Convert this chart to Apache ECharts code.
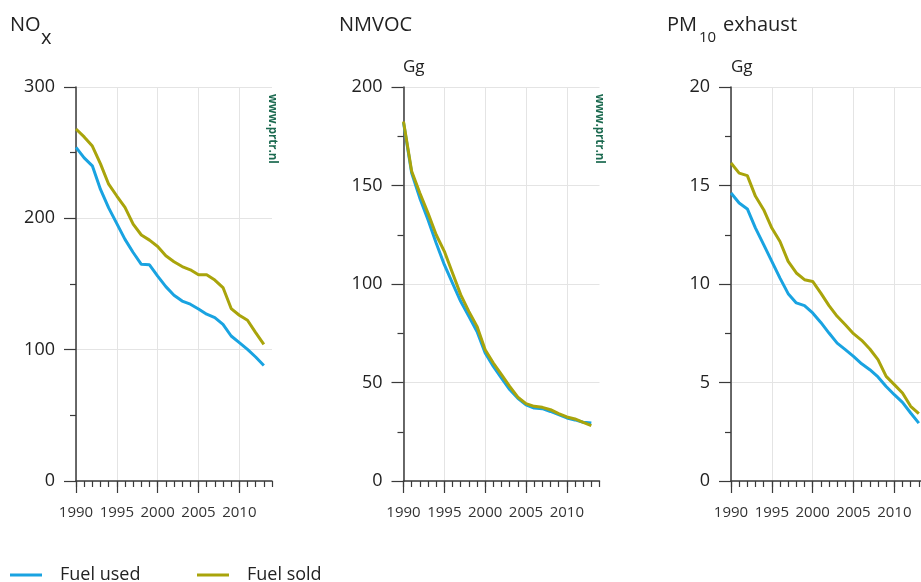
<!DOCTYPE html>
<html>
<head>
<meta charset="utf-8">
<script src="https://cdn.jsdelivr.net/npm/echarts@6/dist/echarts.min.js"></script>
<style>
html, body { margin: 0; padding: 0; background: #fff; }
#chart { width: 921px; height: 582px; }
</style>
</head>
<body>
<div id="chart"></div>
<script>
// years and emission values (Gg)
var years = [1990, 1991, 1992, 1993, 1994, 1995, 1996, 1997, 1998, 1999, 2000, 2001,
	2002, 2003, 2004, 2005, 2006, 2007, 2008, 2009, 2010, 2011, 2012, 2013];
var noxUsed = [254, 246, 240, 222, 208, 196, 184, 174, 165, 164.6, 156, 148,
	141.5, 137, 134.6, 131, 127, 124.4, 119.3, 110.4, 105.3, 100.2, 94.4, 88];
var noxSold = [268, 262, 255, 241.5, 226, 217, 208.4, 195.6, 187.3, 183.4, 178.6, 171.5,
	167, 163.3, 160.8, 157, 157, 153, 147.3, 131.3, 126.2, 122.4, 113, 104];
var nmvocUsed = [182, 156.3, 143.6, 132.6, 120.8, 109.8, 100.5, 91.2, 83.6, 75.9, 65, 58.2,
	52.2, 46.4, 42, 38.7, 37, 36.7, 35.3, 33.7, 32, 31, 29.8, 29.4];
var nmvocSold = [182.5, 157.2, 146.2, 136, 125, 116.6, 105.6, 94.6, 86.1, 78.5, 66.6, 59.9,
	54, 48, 42.6, 39.3, 37.9, 37.4, 36.2, 34.2, 32.5, 31.5, 29.8, 28.1];
var pmUsed = [14.62, 14.11, 13.81, 12.84, 12.0, 11.15, 10.3, 9.51, 9.04, 8.9, 8.53, 8.05,
	7.51, 7.0, 6.67, 6.33, 5.95, 5.65, 5.28, 4.8, 4.38, 3.99, 3.45, 2.94];
var pmSold = [16.14, 15.63, 15.5, 14.45, 13.77, 12.84, 12.16, 11.15, 10.56, 10.22, 10.13, 9.54,
	8.9, 8.36, 7.93, 7.48, 7.14, 6.7, 6.16, 5.31, 4.89, 4.47, 3.79, 3.42];

var majorYears = [1990, 1995, 2000, 2005, 2010];
var yMaxes = [300, 200, 20];
var ySteps = [100, 50, 5];
var seriesNames = ['Fuel used', 'Fuel sold'];

var font = '"Open Sans", "Noto Sans", sans-serif';
var blue = '#19a3e1';
var olive = '#a9a40b';
var axisColor = '#3a3a3a';
var gridColor = '#e4e4e4';
var markColor = '#1c6a50';

var panelData = [[noxUsed, noxSold], [nmvocUsed, nmvocSold], [pmUsed, pmSold]];
var gridLefts = [76, 403.5, 731];

function pairs(vals) {
	return years.map(function(y, i) { return [y, vals[i]]; });
}

var grids = [], xAxes = [], yAxes = [], series = [];
for (var i = 0; i < 3; i++) {
	grids.push({left: gridLefts[i], top: 87, width: 196, height: 394, outerBoundsMode: 'none'});
	// main x axis: 5-year ticks and labels
	xAxes.push({
		type: 'value', gridIndex: i, min: 1990, max: 2014, interval: 5,
		axisLine: {show: true, onZero: false, lineStyle: {color: axisColor, width: 1.5}},
		axisTick: {show: true, length: 12, customValues: majorYears, lineStyle: {color: axisColor, width: 1.2}},
		axisLabel: {customValues: majorYears, margin: 24, fontSize: 15, color: '#333', fontFamily: font,
			formatter: function(v) { return String(v); }},
		splitLine: {show: true, lineStyle: {color: gridColor, width: 1}}
	});
	// second x axis only for yearly small ticks
	xAxes.push({
		type: 'value', gridIndex: i, position: 'bottom', min: 1990, max: 2014, interval: 1,
		axisLine: {show: false},
		axisTick: {show: true, length: 6, lineStyle: {color: axisColor, width: 1.2}},
		axisLabel: {show: false},
		splitLine: {show: false}
	});
	yAxes.push({
		type: 'value', gridIndex: i, min: 0, max: yMaxes[i], interval: ySteps[i],
		axisLine: {show: true, lineStyle: {color: axisColor, width: 1.5}},
		axisTick: {show: true, length: 12, lineStyle: {color: axisColor, width: 1.2}},
		minorTick: {show: true, splitNumber: 2, length: 6, lineStyle: {color: axisColor, width: 1.2}},
		axisLabel: {margin: 21, fontSize: 18, color: '#222', fontFamily: font},
		splitLine: {show: true, lineStyle: {color: gridColor, width: 1}}
	});
	[blue, olive].forEach(function(c, k) {
		series.push({
			type: 'line', name: seriesNames[k], xAxisIndex: 2 * i, yAxisIndex: i,
			data: pairs(panelData[i][k]), symbol: 'none', showSymbol: false,
			lineStyle: {color: c, width: 3}, itemStyle: {color: c}, z: 3 + k
		});
	});
}

function txt(x, y, s, size, extra) {
	var st = {text: s, x: 0, y: 0, fill: '#222', fontSize: size, fontFamily: font,
		align: 'left', textAlign: 'left', verticalAlign: 'middle', textVerticalAlign: 'middle'};
	for (var k in extra) st[k] = extra[k];
	return {type: 'text', x: x, y: y, style: st, z: 10};
}
function mark(x) {
	return {type: 'text', x: x, y: 94, rotation: -Math.PI / 2, z: 10,
		style: {text: 'www.prtr.nl', x: 0, y: 0, fill: markColor, fontSize: 11.5, fontWeight: 'bold',
			fontFamily: font, align: 'left', textAlign: 'left', verticalAlign: 'middle', textVerticalAlign: 'middle'}};
}

var legendBase = {
	itemWidth: 32, itemHeight: 3, icon: 'rect', top: 561,
	textStyle: {fontSize: 18, color: '#222', fontFamily: font, padding: [0, 0, 0, 13]}
};

var option = {
	animation: false,
	backgroundColor: '#fff',
	grid: grids,
	xAxis: xAxes,
	yAxis: yAxes,
	series: series,
	legend: [
		Object.assign({}, legendBase, {data: ['Fuel used'], left: 5}),
		Object.assign({}, legendBase, {data: ['Fuel sold'], left: 192})
	],
	graphic: [
		txt(10, 25, 'NO', 20),
		txt(41, 38, 'x', 20),
		txt(339, 25, 'NMVOC', 20),
		txt(667, 25, 'PM', 20),
		txt(699, 38, '10', 15),
		txt(723, 25, 'exhaust', 20),
		txt(403, 67, 'Gg', 17),
		txt(731, 67, 'Gg', 17),
		mark(272),
		mark(599),
		mark(927)
	]
};

var myChart = echarts.init(document.getElementById('chart'));
myChart.setOption(option);
</script>
</body>
</html>
